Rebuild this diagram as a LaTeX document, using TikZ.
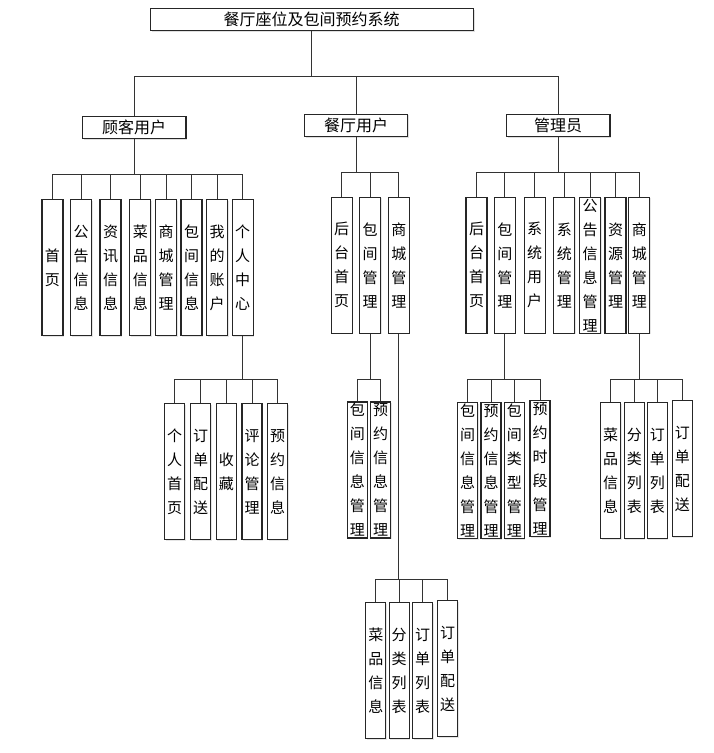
\documentclass[tikz,border=0pt]{standalone}
\usepackage{fontspec}
\setmainfont{Noto Sans CJK SC}
\usepackage{tikz}
\usetikzlibrary{shadows}
\tikzstyle{line} = [draw=black!80, line width=0.9pt]
\tikzstyle{rolebox} = [rectangle, draw=black!85, line width=1.1pt, fill=white, inner sep=0pt, minimum width=103.5pt, minimum height=22.3pt, text centered, font=\fontsize{16}{18}\selectfont, drop shadow={shadow xshift=1.3pt, shadow yshift=-1.3pt, fill=black!25}]
\tikzstyle{leaf} = [rectangle, draw=black!85, line width=1.1pt, fill=white, inner sep=0pt, minimum width=21pt, minimum height=136pt, text width=15pt, align=center, font=\fontsize{15}{24}\selectfont, drop shadow={shadow xshift=1pt, shadow yshift=-1pt, fill=black!20}]
\tikzstyle{subleaf} = [leaf, minimum width=20pt]

\begin{document}
\begin{tikzpicture}[x=1pt, y=-1pt]
\useasboundingbox (0,0) rectangle (714,753);

% System
\node (root) [rolebox, minimum width=323pt] at (311.7,19.5) {餐厅座位及包间预约系统};

% User roles
\node (guest) [rolebox] at (134.2,127.3) {顾客用户};
\node (staff) [rolebox] at (356,125.2) {餐厅用户};
\node (admin) [rolebox] at (558.2,125.2) {管理员};

% Customer functions
\node (home) [leaf] at (52.5,267.7) {首\\页};
\node (notice) [leaf] at (81,267.7) {公\\告\\信\\息};
\node (news) [leaf] at (110.5,267.7) {资\\讯\\信\\息};
\node (dish) [leaf] at (140.3,267.7) {菜\\品\\信\\息};
\node (mall) [leaf] at (166,267.7) {商\\城\\管\\理};
\node (room) [leaf] at (191.5,267.7) {包\\间\\信\\息};
\node (account) [leaf] at (217.2,267.7) {我\\的\\账\\户};
\node (center) [leaf] at (242.7,267.7) {个\\人\\中\\心};

% Restaurant functions
\node (stafhome) [leaf] at (341.7,265.3) {后\\台\\首\\页};
\node (stafroom) [leaf] at (370.2,265.3) {包\\间\\管\\理};
\node (stafmall) [leaf] at (398.8,265.3) {商\\城\\管\\理};

% Admin functions
\node (admhome) [leaf] at (476.5,265.3) {后\\台\\首\\页};
\node (admroom) [leaf] at (504.8,265.3) {包\\间\\管\\理};
\node (admuser) [leaf] at (534.7,265.3) {系\\统\\用\\户};
\node (admsys) [leaf] at (564.3,265.3) {系\\统\\管\\理};
\node (admnotice) [leaf] at (590,265.3) {公\\告\\信\\息\\管\\理};
\node (admres) [leaf] at (615.5,265.3) {资\\源\\管\\理};
\node (admmall) [leaf] at (639.3,265.3) {商\\城\\管\\理};

% Personal center
\node (pchome) [subleaf] at (174.7,471.7) {个\\人\\首\\页};
\node (pcdeliver) [subleaf] at (200.7,471.7) {订\\单\\配\\送};
\node (pcfav) [subleaf] at (226.3,471.7) {收\\藏};
\node (pcreview) [subleaf] at (252,471.7) {评\\论\\管\\理};
\node (pcbook) [subleaf] at (277.7,471.7) {预\\约\\信\\息};

% Restaurant room management
\node (srinfo) [subleaf] at (357.3,470) {包\\间\\信\\息\\管\\理};
\node (srbook) [subleaf] at (380.7,470) {预\\约\\信\\息\\管\\理};

% Restaurant mall management
\node (smdish) [subleaf] at (375.9,670.5) {菜\\品\\信\\息};
\node (smcat) [subleaf] at (399.2,670.5) {分\\类\\列\\表};
\node (smorder) [subleaf] at (422.5,670.5) {订\\单\\列\\表};
\node (smdeliver) [subleaf] at (447.7,668.7) {订\\单\\配\\送};

% Admin room management
\node (arinfo) [subleaf] at (467.7,470.7) {包\\间\\信\\息\\管\\理};
\node (arbook) [subleaf] at (491,470.7) {预\\约\\信\\息\\管\\理};
\node (artype) [subleaf] at (514.3,470.7) {包\\间\\类\\型\\管\\理};
\node (arslot) [subleaf] at (540,468.7) {预\\约\\时\\段\\管\\理};

% Admin mall management
\node (amdish) [subleaf] at (610.7,470.7) {菜\\品\\信\\息};
\node (amcat) [subleaf] at (634.3,470.7) {分\\类\\列\\表};
\node (amorder) [subleaf] at (657.3,470.7) {订\\单\\列\\表};
\node (amdeliver) [subleaf] at (682.3,468.7) {订\\单\\配\\送};

% Bus points
\coordinate (busroot) at (311.7,76);
\coordinate (busguest) at (134.2,174.5);
\coordinate (busstaff) at (356,172.3);
\coordinate (busadmin) at (558.2,172.3);
\coordinate (buscenter) at (242.7,379);
\coordinate (busstafroom) at (370.2,379);
\coordinate (busstafmall) at (398.8,579.3);
\coordinate (busadmroom) at (504.8,379);
\coordinate (busadmmall) at (639.3,379);

% Connectors
\draw [line] (root.south) -- (busroot);
\draw [line] (busroot) -| (guest.north);
\draw [line] (busroot) -| (staff.north);
\draw [line] (busroot) -| (admin.north);

\draw [line] (guest.south) -- (busguest);
\draw [line] (busguest) -| (home.north);
\draw [line] (busguest) -| (notice.north);
\draw [line] (busguest) -| (news.north);
\draw [line] (busguest) -| (dish.north);
\draw [line] (busguest) -| (mall.north);
\draw [line] (busguest) -| (room.north);
\draw [line] (busguest) -| (account.north);
\draw [line] (busguest) -| (center.north);

\draw [line] (staff.south) -- (busstaff);
\draw [line] (busstaff) -| (stafhome.north);
\draw [line] (busstaff) -| (stafroom.north);
\draw [line] (busstaff) -| (stafmall.north);

\draw [line] (admin.south) -- (busadmin);
\draw [line] (busadmin) -| (admhome.north);
\draw [line] (busadmin) -| (admroom.north);
\draw [line] (busadmin) -| (admuser.north);
\draw [line] (busadmin) -| (admsys.north);
\draw [line] (busadmin) -| (admnotice.north);
\draw [line] (busadmin) -| (admres.north);
\draw [line] (busadmin) -| (admmall.north);

\draw [line] (center.south) -- (buscenter);
\draw [line] (buscenter) -| (pchome.north);
\draw [line] (buscenter) -| (pcdeliver.north);
\draw [line] (buscenter) -| (pcfav.north);
\draw [line] (buscenter) -| (pcreview.north);
\draw [line] (buscenter) -| (pcbook.north);

\draw [line] (stafroom.south) -- (busstafroom);
\draw [line] (busstafroom) -| (srinfo.north);
\draw [line] (busstafroom) -| (srbook.north);

\draw [line] (stafmall.south) -- (busstafmall);
\draw [line] (busstafmall) -| (smdish.north);
\draw [line] (busstafmall) -| (smcat.north);
\draw [line] (busstafmall) -| (smorder.north);
\draw [line] (busstafmall) -| (smdeliver.north);

\draw [line] (admroom.south) -- (busadmroom);
\draw [line] (busadmroom) -| (arinfo.north);
\draw [line] (busadmroom) -| (arbook.north);
\draw [line] (busadmroom) -| (artype.north);
\draw [line] (busadmroom) -| (arslot.north);

\draw [line] (admmall.south) -- (busadmmall);
\draw [line] (busadmmall) -| (amdish.north);
\draw [line] (busadmmall) -| (amcat.north);
\draw [line] (busadmmall) -| (amorder.north);
\draw [line] (busadmmall) -| (amdeliver.north);

\end{tikzpicture}
\end{document}
